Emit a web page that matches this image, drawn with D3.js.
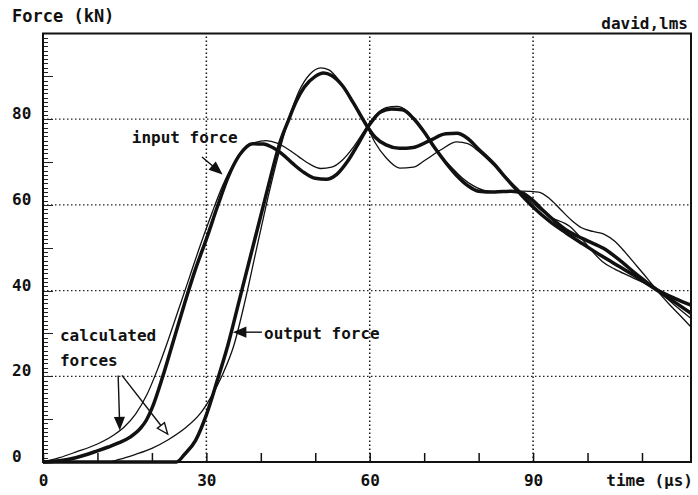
<!DOCTYPE html>
<html>
<head>
<meta charset="utf-8">
<script src="https://cdn.jsdelivr.net/npm/d3@7"></script>
<style>
  body { margin: 0; background: #fff; }
  svg text { font-family: "DejaVu Sans Mono", "Liberation Mono", monospace; font-weight: bold; fill: #111; }
</style>
</head>
<body>
<div id="chart"></div>
<script>
// measured input force (thick)
var inputMeasured = [[0,0],[3,0.3],[6,1],[10,2.6],[12,3.5],[14,4.5],[16,5.8],[18,8],[19,9.8],[20,12.5],[22,20],[24,28.5],
  [26,37],[28,45],[30,52],[32,59.5],[34,66.5],[36,71.5],[38.5,74.3],[40.5,74.2],[42,73.5],[44,71.8],[46,69.5],[48,67.5],
  [50,66.2],[52,66],[54,67.2],[56,70.3],[58,74.5],[60,78.8],[62,81.7],[64,82.4],[66,82.2],[68,80.2],[70,77],[72,73.2],
  [74,69.8],[76,66.8],[78,64.5],[80,63.2],[83,63],[86,63.2],[88,62.8],[90,61],[92,58.5],[94,56.2],[96,54.2],[98,52.8],
  [100,51.6],[103,49.8],[106,47],[109,43.8],[112.7,40.2],[116,37.3],[119,34.7]];

// calculated input force (thin)
var inputCalc = [[0,0],[3,1],[6,2.3],[10,4.2],[13,6.3],[15,8.3],[17,11.2],[19,15.5],[21,21.5],[23,28.5],[25,36],[27,43.5],
  [29,51],[31,58],[33,64.5],[35,69.5],[37,72.8],[39,74.6],[41,75],[43,74.4],[45,73],[47,71.2],[49,69.5],[51,68.5],
  [53,68.8],[55,70.5],[57,73.5],[59,77.3],[61,80.8],[63,82.7],[65,83],[67,81.8],[69,78.8],[71,75],[73,71.5],[75,68.8],
  [77,66.3],[79,64.5],[81,63.4],[84,63],[88,63.2],[91,63],[93,61.5],[95,59],[97,56.5],[99,54.6],[101,53.8],[103,53.2],
  [105,51.5],[107,48.8],[109,45.8],[111,42.8],[112.7,40.1],[115,36.8],[117,34.2],[119,31.5]];

// measured output force (thick)
var outputMeasured = [[0,0],[24.5,0],[26,1.8],[28,5],[30,11],[32,19],[34,27.5],[36,37.5],[37.5,45],[39,52.5],[40.5,60],
  [42,67.5],[43.5,74.5],[45,79.5],[46.6,84.4],[48,87.5],[50,90],[51.5,90.8],[53,90.2],[55,87.8],[57,83.8],[59.4,78.6],
  [61,75.8],[63,74],[65.5,73.2],[68,73.4],[71,75],[74,76.6],[76,76.7],[78,75.5],[80,73],[83,69.3],[85,66.3],[87.5,62.8],
  [90,59.5],[93,56.2],[96,53.5],[99,51],[102.7,48],[106,45.5],[109,43.2],[112.7,40.2],[116,38.2],[119,36.6]];

// calculated output force (thin)
var outputCalc = [[0,0],[12,0],[14,0.6],[17,1.8],[20,3.2],[23,5.2],[26,7.8],[29,11.5],[31,15.5],[33,20.5],[35,27],
  [37,37],[39,48.5],[41,60],[43,70.5],[45,79.5],[47,86.5],[49,90.5],[51,92],[52.5,91.5],[54.5,88.8],[57,83.8],[59.4,78.6],
  [61,74.5],[63,71],[65.5,68.6],[68,68.8],[70,70.3],[73,72.8],[76,74.7],[78,74.3],[80,72.5],[83,69],[87,64],[90,60.3],
  [93,57.3],[96.7,55],[99,52],[101,49],[102.7,46.8],[105,45],[108,43.2],[112.7,40.1],[116,36.6],[119,33.5]];

var xTickLabels = [0, 30, 60, 90];
var yTickLabels = [0, 20, 40, 60, 80];

var width = 698, height = 495;

var svg = d3.select("#chart").append("svg")
    .attr("width", width)
    .attr("height", height);

var x = d3.scaleLinear().domain([0, 119]).range([43, 691]);
var y = d3.scaleLinear().domain([0, 100]).range([462, 33.5]);

//dotted grid
svg.append("g").selectAll("line")
    .data(yTickLabels.filter(function(d){ return d > 0; }))
    .enter().append("line")
    .attr("x1", x(0)).attr("x2", x(119))
    .attr("y1", function(d){ return y(d); }).attr("y2", function(d){ return y(d); })
    .style("stroke", "#222").style("stroke-width", 1.2)
    .style("stroke-dasharray", "1.5,2.5");

svg.append("g").selectAll("line")
    .data(xTickLabels.filter(function(d){ return d > 0; }))
    .enter().append("line")
    .attr("x1", function(d){ return x(d); }).attr("x2", function(d){ return x(d); })
    .attr("y1", y(0)).attr("y2", y(100))
    .style("stroke", "#111").style("stroke-width", 1.5)
    .style("stroke-dasharray", "1.5,2.5");

//x axis ticks every 10, labels at 30s
var xAxis = d3.axisBottom(x)
    .tickValues(d3.range(0, 120, 10))
    .tickSizeInner(-9).tickSizeOuter(0)
    .tickPadding(13)
    .tickFormat(function(d){ return xTickLabels.indexOf(d) >= 0 ? d : ""; });

var gx = svg.append("g").attr("transform", "translate(0," + y(0) + ")").call(xAxis);
gx.select(".domain").remove();
gx.selectAll("line").style("stroke", "#111").style("stroke-width", 1.5);
gx.selectAll("text").style("font-size", "16px").style("font-family", null);

//y axis minor ticks every 1 kN, snapped to pixels so they stay crisp
svg.append("g").selectAll("line")
    .data(d3.range(1, 100))
    .enter().append("line")
    .attr("x1", x(0)).attr("x2", function(d){ return x(0) + (d % 10 === 0 ? 10 : 5); })
    .attr("y1", function(d){ return Math.round(y(d)) + 0.5; })
    .attr("y2", function(d){ return Math.round(y(d)) + 0.5; })
    .style("stroke", "#222").style("stroke-width", 1)
    .style("shape-rendering", "crispEdges");

svg.append("g").selectAll("text")
    .data(yTickLabels)
    .enter().append("text")
    .attr("x", 12)
    .attr("y", function(d){ return y(d); })
    .style("font-size", "16px")
    .text(function(d){ return d; });

//frame
svg.append("rect")
    .attr("x", x(0)).attr("y", y(100))
    .attr("width", x(119) - x(0)).attr("height", y(0) - y(100))
    .style("fill", "none").style("stroke", "#111").style("stroke-width", 2);

//curves
var line = d3.line()
    .x(function(d){ return x(d[0]); })
    .y(function(d){ return y(d[1]); })
    .curve(d3.curveMonotoneX);

var series = [
    {data: inputCalc, w: 1.3},
    {data: outputCalc, w: 1.3},
    {data: inputMeasured, w: 3.5},
    {data: outputMeasured, w: 3.5}
];

svg.append("g").selectAll("path")
    .data(series)
    .enter().append("path")
    .attr("d", function(d){ return line(d.data); })
    .style("fill", "none")
    .style("stroke", "#111")
    .style("stroke-width", function(d){ return d.w; })
    .style("stroke-linejoin", "round");

//annotations (positions in data units)
function arrow(t1, f1, t2, f2, hollow) {
    var x1 = x(t1), y1 = y(f1), x2 = x(t2), y2 = y(f2);
    var a = Math.atan2(y2 - y1, x2 - x1), len = 11, hw = 4.5;
    var bx = x2 - len * Math.cos(a), by = y2 - len * Math.sin(a);
    svg.append("line")
        .attr("x1", x1).attr("y1", y1).attr("x2", bx).attr("y2", by)
        .style("stroke", "#111").style("stroke-width", 1.4);
    var pts = [[x2, y2],
        [bx + hw * Math.sin(a), by - hw * Math.cos(a)],
        [bx - hw * Math.sin(a), by + hw * Math.cos(a)]];
    svg.append("polygon")
        .attr("points", pts.map(function(p){ return p.join(","); }).join(" "))
        .style("fill", hollow ? "#fff" : "#111")
        .style("stroke", "#111").style("stroke-width", 1.4);
}

function label(t, f, txt, size) {
    svg.append("text").attr("x", x(t)).attr("y", y(f))
        .style("font-size", (size || 16) + "px").text(txt);
}

label(16.3, 74.4, "input force");
arrow(29.2, 71.2, 32.7, 67.4, false);

label(3.1, 28.3, "calculated");
label(3.1, 22.4, "forces");
arrow(13.8, 20.2, 14.1, 7.8, false);
arrow(14.5, 20.2, 22.9, 6.5, true);

label(40.6, 28.6, "output force");
arrow(40.2, 30.3, 35.2, 30.3, false);

svg.append("text").attr("x", 12).attr("y", 22).style("font-size", "17px").text("Force (kN)");
svg.append("text").attr("x", 688).attr("y", 29).attr("text-anchor", "end").style("font-size", "16px").text("david,lms");
svg.append("text").attr("x", 693).attr("y", 486).attr("text-anchor", "end").style("font-size", "16px").text("time (µs)");
</script>
</body>
</html>
